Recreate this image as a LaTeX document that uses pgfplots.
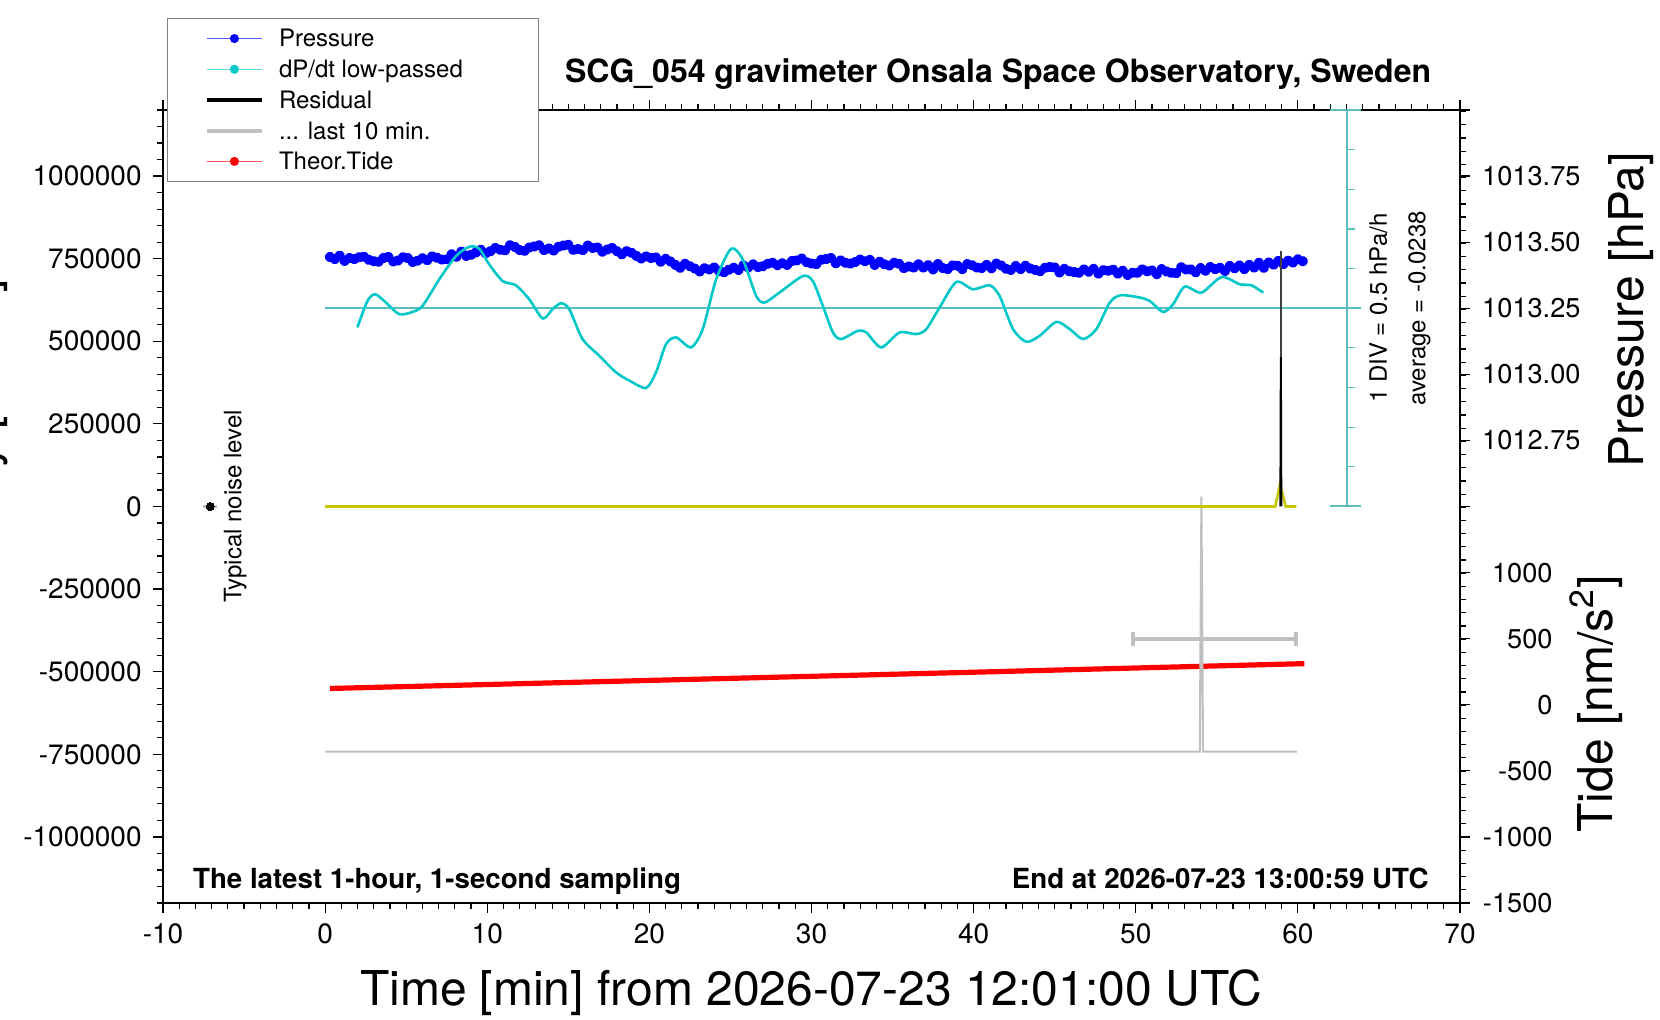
\documentclass[border=0pt]{standalone}
\usepackage{fontspec}
\setmainfont{TeX Gyre Heros}
\usepackage{pgfplots}
\pgfplotsset{compat=1.18}

\definecolor{pblue}{RGB}{0,0,255}
\definecolor{dcyan}{RGB}{0,200,200}
\definecolor{tealc}{RGB}{90,190,190}
\definecolor{ygold}{RGB}{200,200,0}
\definecolor{lgray}{RGB}{192,192,192}
\definecolor{tred}{RGB}{255,0,0}

\pgfplotsset{
  base/.style={scale only axis, width=648.5pt, height=396.5pt, xmin=-10, xmax=70,
    clip=false, at={(0,0)}, anchor=south west},
  tk/.style={tick align=outside, major tick length=5pt, minor tick length=2.8pt,
    every tick/.append style={black, line width=0.6pt},
    tick label style={font=\fontsize{14}{16}\selectfont}},
}

\begin{document}
\begin{tikzpicture}
\fill[white] (-81.5pt,-58.5pt) rectangle (748.5pt,451.5pt);
\useasboundingbox (-81.5pt,-58.5pt) rectangle (748.5pt,451.5pt);

% ---------- Axis 1: frame, x ticks, right (pressure / tide) ticks, pressure series
\begin{axis}[base, tk, ymin=1011, ymax=1014,
  axis line style={line width=1pt},
  xtick={-10,0,10,20,30,40,50,60,70},
  xticklabels={-10,0,10,20,30,40,50,60,70},
  minor xtick={-10,-9,...,70},
  ytick pos=right,
  ytick={1011,1011.25,1011.5,1011.75,1012,1012.25,1012.5,1012.75,1013,1013.25,1013.5,1013.75,1014},
  yticklabels={{-1500\kern14pt},{-1000\kern14pt},{-500\kern14pt},{0\kern14pt},{500\kern14pt},{1000\kern14pt},{},{1012.75},{1013.00},{1013.25},{1013.50},{1013.75},{}},
  minor ytick={1011,1011.05,...,1014.01},
  xticklabel style={inner sep=5pt},
  yticklabel style={anchor=west, text width=49.2pt, align=right, inner xsep=5.85pt, inner ysep=0pt,
    font=\fontsize{13.6}{16}\selectfont},
]
\addplot[pblue, line width=3pt, line join=round, mark=*, mark size=1.05pt, mark options={pblue}] coordinates {
(0.3,1013.444) (0.6,1013.436) (0.9,1013.449) (1.2,1013.429) (1.5,1013.440) (1.8,1013.436)
(2.1,1013.443) (2.4,1013.445) (2.7,1013.433) (3.0,1013.428) (3.3,1013.426) (3.6,1013.440)
(3.9,1013.444) (4.2,1013.427) (4.5,1013.431) (4.8,1013.443) (5.1,1013.440) (5.4,1013.425)
(5.7,1013.430) (6.0,1013.439) (6.3,1013.432) (6.6,1013.446) (6.9,1013.441) (7.2,1013.434)
(7.5,1013.435) (7.8,1013.454) (8.1,1013.445) (8.4,1013.464) (8.7,1013.448) (9.0,1013.452)
(9.3,1013.461) (9.6,1013.471) (9.9,1013.458) (10.2,1013.466) (10.5,1013.478) (10.8,1013.471)
(11.1,1013.469) (11.4,1013.488) (11.7,1013.482) (12.0,1013.470) (12.3,1013.467) (12.6,1013.480)
(12.9,1013.484) (13.2,1013.488) (13.5,1013.470) (13.8,1013.476) (14.1,1013.468) (14.4,1013.483)
(14.7,1013.487) (15.0,1013.490) (15.3,1013.471) (15.6,1013.474) (15.9,1013.470) (16.2,1013.487)
(16.5,1013.478) (16.8,1013.480) (17.1,1013.464) (17.4,1013.472) (17.7,1013.478) (18.0,1013.466)
(18.3,1013.454) (18.6,1013.466) (18.9,1013.460) (19.2,1013.448) (19.5,1013.438) (19.8,1013.446)
(20.1,1013.440) (20.4,1013.442) (20.7,1013.426) (21.0,1013.437) (21.3,1013.427) (21.6,1013.414)
(21.9,1013.403) (22.2,1013.418) (22.5,1013.409) (22.8,1013.400) (23.1,1013.389) (23.4,1013.401)
(23.7,1013.397) (24.0,1013.404) (24.3,1013.391) (24.6,1013.386) (24.9,1013.396) (25.2,1013.403)
(25.5,1013.395) (25.8,1013.412) (26.1,1013.404) (26.4,1013.416) (26.7,1013.406) (27.0,1013.409)
(27.3,1013.418) (27.6,1013.422) (27.9,1013.413) (28.2,1013.420) (28.5,1013.414) (28.8,1013.429)
(29.1,1013.431) (29.4,1013.438) (29.7,1013.424) (30.0,1013.419) (30.3,1013.417) (30.6,1013.433)
(30.9,1013.436) (31.2,1013.440) (31.5,1013.420) (31.8,1013.431) (32.1,1013.422) (32.4,1013.419)
(32.7,1013.425) (33.0,1013.434) (33.3,1013.428) (33.6,1013.433) (33.9,1013.414) (34.2,1013.426)
(34.5,1013.416) (34.8,1013.412) (35.1,1013.422) (35.4,1013.418) (35.7,1013.402) (36.0,1013.408)
(36.3,1013.404) (36.6,1013.416) (36.9,1013.404) (37.2,1013.413) (37.5,1013.397) (37.8,1013.417)
(38.1,1013.402) (38.4,1013.398) (38.7,1013.412) (39.0,1013.411) (39.3,1013.398) (39.6,1013.417)
(39.9,1013.413) (40.2,1013.404) (40.5,1013.402) (40.8,1013.414) (41.1,1013.401) (41.4,1013.419)
(41.7,1013.412) (42.0,1013.399) (42.3,1013.395) (42.6,1013.410) (42.9,1013.398) (43.2,1013.411)
(43.5,1013.400) (43.8,1013.395) (44.1,1013.390) (44.4,1013.403) (44.7,1013.406) (45.0,1013.404)
(45.3,1013.385) (45.6,1013.399) (45.9,1013.390) (46.2,1013.387) (46.5,1013.384) (46.8,1013.397)
(47.1,1013.388) (47.4,1013.399) (47.7,1013.381) (48.0,1013.394) (48.3,1013.392) (48.6,1013.396)
(48.9,1013.381) (49.2,1013.392) (49.5,1013.376) (49.8,1013.384) (50.1,1013.384) (50.4,1013.397)
(50.7,1013.390) (51.0,1013.393) (51.3,1013.379) (51.6,1013.398) (51.9,1013.389) (52.2,1013.384)
(52.5,1013.383) (52.8,1013.405) (53.1,1013.397) (53.4,1013.397) (53.7,1013.386) (54.0,1013.402)
(54.3,1013.392) (54.6,1013.406) (54.9,1013.398) (55.2,1013.403) (55.5,1013.391) (55.8,1013.410)
(56.1,1013.401) (56.4,1013.412) (56.7,1013.398) (57.0,1013.414) (57.3,1013.404) (57.6,1013.422)
(57.9,1013.403) (58.2,1013.423) (58.5,1013.415) (58.8,1013.429) (59.1,1013.417) (59.4,1013.430)
(59.7,1013.423) (60.0,1013.435) (60.3,1013.428)
};
\end{axis}

% ---------- Axis 2: dP/dt low-passed [hPa/h], 1 DIV = 0.5 hPa/h
\begin{axis}[base, hide axis, ymin=-7.5238, ymax=2.4762]
\draw[tealc, line width=1pt] (axis cs:0,-0.0238) -- (axis cs:63.9,-0.0238);
\draw[tealc, line width=1pt] (axis cs:63,-2.5238) -- (axis cs:63,2.4762);
\draw[tealc, line width=1pt] (axis cs:61.95,2.4762) -- (axis cs:63.9,2.4762);
\draw[tealc, line width=1pt] (axis cs:61.95,-2.5238) -- (axis cs:63.9,-2.5238);
\draw[tealc, line width=0.6pt] (axis cs:63,1.9762) -- (axis cs:63.5,1.9762);
\draw[tealc, line width=0.6pt] (axis cs:63,1.4762) -- (axis cs:63.5,1.4762);
\draw[tealc, line width=0.6pt] (axis cs:63,0.9762) -- (axis cs:63.5,0.9762);
\draw[tealc, line width=0.6pt] (axis cs:63,0.4762) -- (axis cs:63.5,0.4762);
\draw[tealc, line width=0.6pt] (axis cs:63,-0.5238) -- (axis cs:63.5,-0.5238);
\draw[tealc, line width=0.6pt] (axis cs:63,-1.0238) -- (axis cs:63.5,-1.0238);
\draw[tealc, line width=0.6pt] (axis cs:63,-1.5238) -- (axis cs:63.5,-1.5238);
\draw[tealc, line width=0.6pt] (axis cs:63,-2.0238) -- (axis cs:63.5,-2.0238);
\addplot[dcyan, line width=1.3pt, smooth, tension=0.45] coordinates {
(1.99,-0.266) (2.61,0.068) (3.09,0.152) (3.75,0.048) (4.57,-0.099) (5.39,-0.070) (6.01,0.005)
(7.04,0.341) (8.07,0.633) (8.89,0.751) (9.51,0.726) (10.12,0.529) (10.95,0.319) (11.77,0.265)
(12.59,0.089) (13.42,-0.153) (14.03,-0.036) (14.55,0.039) (15.06,-0.036) (15.88,-0.413)
(16.91,-0.623) (17.94,-0.832) (18.77,-0.937) (19.80,-1.029) (20.41,-0.832) (21.03,-0.476)
(21.65,-0.392) (22.57,-0.518) (23.29,-0.288) (24.12,0.341) (25.04,0.726) (25.76,0.592)
(26.59,0.131) (27.10,0.048) (28.02,0.173) (29.46,0.382) (30.08,0.319) (30.70,0.005)
(31.32,-0.329) (31.83,-0.413) (32.86,-0.309) (33.38,-0.329) (34.30,-0.518) (35.43,-0.329)
(36.46,-0.350) (37.08,-0.288) (37.90,-0.015) (38.93,0.307) (39.96,0.215) (40.99,0.265)
(41.60,0.131) (42.43,-0.288) (43.25,-0.447) (44.07,-0.372) (45.10,-0.196) (45.93,-0.288)
(46.75,-0.413) (47.57,-0.288) (48.40,0.048) (49.07,0.140) (50.25,0.111) (50.86,0.068)
(51.69,-0.070) (52.30,0.026) (53.02,0.249) (54.05,0.173) (55.29,0.369) (56.42,0.278)
(57.14,0.265) (57.86,0.173)
};
\end{axis}

% ---------- Axis 3: theoretical tide [nm/s^2]
\begin{axis}[base, hide axis, ymin=-1500, ymax=4500]
\addplot[tred, line width=2.6pt] coordinates {
(0.3,123) (10,153) (20,184) (30,215) (40,246) (50,278) (60.4,311)
};
\addplot[lgray, line width=2pt, unbounded coords=jump] coordinates {
(49.8,500) (59.9,500) (nan,nan) (49.8,447) (49.8,553) (nan,nan) (59.9,447) (59.9,553)
};
\addplot[lgray, line width=1.4pt] coordinates {(54.05,85) (54.05,916)};
\end{axis}

% ---------- Axis 4: left scale (counts), residual, last 10 min, noise level
\begin{axis}[base, tk, ymin=-1200000, ymax=1200000,
  axis line style={draw=none}, xtick=\empty, ytick pos=left,
  scaled y ticks=false,
  ytick={-1000000,-750000,-500000,-250000,0,250000,500000,750000,1000000},
  yticklabels={-1000000,-750000,-500000,-250000,0,250000,500000,750000,1000000},
  minor ytick={-1200000,-1150000,-1100000,-1050000,-1000000,-950000,-900000,-850000,-800000,
    -750000,-700000,-650000,-600000,-550000,-500000,-450000,-400000,-350000,-300000,-250000,
    -200000,-150000,-100000,-50000,0,50000,100000,150000,200000,250000,300000,350000,400000,
    450000,500000,550000,600000,650000,700000,750000,800000,850000,900000,950000,1000000,
    1050000,1100000,1150000,1200000},
  yticklabel style={inner sep=5.5pt},
]
\addplot[lgray, line width=1pt] coordinates {
(0,-742000) (53.95,-742000) (54.05,29700) (54.15,-742000) (59.95,-742000)
};
\addplot[ygold, line width=1.3pt] coordinates {
(0,0) (58.6,0) (58.9,66500) (59.25,0) (59.9,0)
};
\addplot[black, line width=1pt] coordinates {(58.92,0) (58.95,453000) (58.98,0)};
\addplot[black!75, line width=0.8pt] coordinates {(58.95,453000) (58.95,773000)};
\addplot[lgray!85!black, line width=1.5pt, mark=*, mark size=2pt,
  mark options={black, fill=black, line width=0pt},
  error bars/.cd, x dir=both, x explicit, error mark=none,
  error bar style={lgray, line width=1.5pt}] coordinates {(-7.09,0) +- (0.45,0)};
\node[rotate=90, inner sep=0pt, font=\fontsize{12}{14}\selectfont] at (axis cs:-5.55,0) {Typical noise level};
\node[rotate=90, inner sep=0pt, font=\fontsize{12}{14}\selectfont] at (axis cs:64.96,600000) {1 DIV = 0.5 hPa/h};
\node[rotate=90, inner sep=0pt, font=\fontsize{12}{14}\selectfont] at (axis cs:67.5,600000) {average = -0.0238};
\end{axis}

% ---------- Axis 5: legend
\begin{axis}[base, hide axis, ymin=0, ymax=1,
  legend cell align=left,
  legend style={at={(axis description cs:0.00332,1.116)}, anchor=north west,
    draw=gray, line width=0.5pt, fill=white,
    inner xsep=18.5pt, inner ysep=4.35pt, row sep=3.95pt, column sep=7.5pt,
    font=\fontsize{12}{14}\selectfont,
    nodes={inner sep=0pt, text height=9.9pt, text depth=1.5pt}},
]
\addlegendimage{legend image code/.code={\draw[pblue!65, line width=0.5pt] (0pt,0pt)--(27.5pt,0pt); \fill[pblue] (13.75pt,0pt) circle (2pt);}}
\addlegendentry{\makebox[111pt][l]{Pressure}}
\addlegendimage{legend image code/.code={\draw[dcyan!65, line width=0.5pt] (0pt,0pt)--(27.5pt,0pt); \fill[dcyan] (13.75pt,0pt) circle (2pt);}}
\addlegendentry{\makebox[111pt][l]{dP/dt low-passed}}
\addlegendimage{legend image code/.code={\draw[black, line width=1.6pt] (0pt,0pt)--(27.5pt,0pt);}}
\addlegendentry{\makebox[111pt][l]{Residual}}
\addlegendimage{legend image code/.code={\draw[lgray, line width=2.1pt] (0pt,0pt)--(27.5pt,0pt);}}
\addlegendentry{\makebox[111pt][l]{... last 10 min.}}
\addlegendimage{legend image code/.code={\draw[tred!65, line width=0.5pt] (0pt,0pt)--(27.5pt,0pt); \fill[tred] (13.75pt,0pt) circle (2pt);}}
\addlegendentry{\makebox[111pt][l]{Theor.Tide}}
\end{axis}

% ---------- titles and labels
\node[anchor=base east, inner sep=0pt, font=\bfseries\fontsize{16}{18}\selectfont] at (634.25pt,410.25pt)
  {SCG\_054 gravimeter Onsala Space Observatory, Sweden};
\node[anchor=base west, inner sep=0pt, font=\bfseries\fontsize{13.85}{16}\selectfont] at (14.85pt,7pt)
  {The latest 1-hour, 1-second sampling};
\node[anchor=base east, inner sep=0pt, font=\bfseries\fontsize{13.85}{16}\selectfont] at (633pt,7pt)
  {End at 2026-07-23 13:00:59 UTC};
\node[anchor=base, inner sep=0pt, font=\fontsize{24}{28}\selectfont] at (324pt,-51.5pt)
  {Time [min] from 2026-07-23 12:01:00 UTC};
\node[rotate=90, anchor=base, inner sep=0pt, font=\fontsize{24}{28}\selectfont] at (740pt,296.7pt)
  {Pressure [hPa]};
\node[rotate=90, anchor=base, inner sep=0pt, font=\fontsize{24}{28}\selectfont] at (724.5pt,99.5pt)
  {Tide [nm/s\textsuperscript{2}]};
\node[rotate=90, anchor=base east, inner sep=0pt, font=\fontsize{24}{28}\selectfont] at (-82.85pt,312pt)
  {Gravity [nm/s\textsuperscript{2}]};
\end{tikzpicture}
\end{document}
